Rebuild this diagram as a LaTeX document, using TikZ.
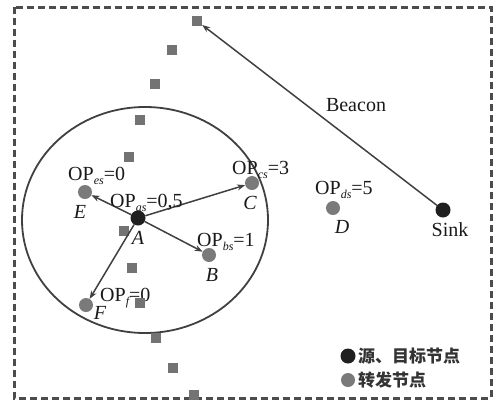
\documentclass[tikz,border=0pt]{standalone}
\usepackage{fontspec}
\setmainfont{Liberation Serif}
\newfontfamily\cjk{Noto Sans CJK SC}
\usetikzlibrary{arrows.meta}
\newcommand\opl[2]{OP\raisebox{-0.45ex}{\fontsize{12}{12}\selectfont\itshape #1}=#2}
\begin{document}
\begin{tikzpicture}[x=1pt,y=-1pt,
 every node/.style={font=\fontsize{20}{22}\selectfont,inner sep=0pt,text=black!90},
 src/.style={circle,fill=black!88,minimum size=15pt,inner sep=0pt},
 fwd/.style={circle,fill=black!52,minimum size=14pt,inner sep=0pt},
 sq/.style={rectangle,fill=black!55,minimum size=10pt,inner sep=0pt},
 lbl/.style={font=\fontsize{20}{22}\selectfont\itshape},
 oplab/.style={anchor=base west},
 link/.style={draw=black!75,line width=1.5pt,-{Stealth[length=8pt,width=6pt]}},
 legtext/.style={anchor=west,font=\fontsize{17}{18}\selectfont\cjk\bfseries,text=black!80}
]
\useasboundingbox (0,0) rectangle (500,405);
\draw[black!70,line width=3pt,dash pattern=on 7pt off 4pt] (14,7) rectangle (491,398);
\draw[black!75,line width=1.8pt] (145,220) ellipse [x radius=123, y radius=113];
% squares
\node[sq] (s1) at (197,21) {};
\node[sq] (s2) at (172,50) {};
\node[sq] (s3) at (155,84) {};
\node[sq] (s4) at (140,120) {};
\node[sq] (s5) at (129,157) {};
\node[sq] (s6) at (124,231) {};
\node[sq] (s7) at (132,268) {};
\node[sq] (s9) at (156,338) {};
\node[sq] (s10) at (173,368) {};
\node[sq] (s11) at (194,395) {};
% nodes
\node[fwd] (E) at (85,192) {};
\node[fwd] (C) at (252,183) {};
\node[fwd] (B) at (209,255) {};
\node[fwd] (F) at (86,305) {};
\node[fwd] (D) at (333,208) {};
\node[src] (Sink) at (443,210) {};
\node[src] (A) at (138,218) {};
% links
\draw[link] (A) -- (E);
\draw[link] (A) -- (C);
\draw[link] (A) -- (B);
\draw[link] (A) -- (F);
\draw[link] (Sink) -- (s1);
% labels
\node[oplab] (lE) at (68,180) {\opl{es}{0}};
\node[oplab] (lA) at (110,207) {\opl{as}{0,5}};
\node[oplab] (lC) at (232,174) {\opl{cs}{3}};
\node[oplab] (lB) at (197,246) {\opl{bs}{1}};
\node[oplab] (lF) at (100,301) {\opl{f}{0}};
\node[oplab] (lD) at (315,194) {\opl{ds}{5}};
\node[sq] (s8) at (140,303) {};
\node[lbl] (tE) at (80,212) {E};
\node[lbl] (tC) at (250,203) {C};
\node[lbl] (tA) at (138,238) {A};
\node[lbl] (tB) at (212,275) {B};
\node[lbl] (tF) at (100,313) {F};
\node[lbl] (tD) at (342,227) {D};
\node (tS) at (450,230) {Sink};
\node (beacon) at (356,105) {Beacon};
% legend
\node[src] (k1) at (348,356) {};
\node[legtext] (k1t) at (358,356) {源、目标节点};
\node[fwd] (k2) at (348,380) {};
\node[legtext] (k2t) at (358,380) {转发节点};
\end{tikzpicture}
\end{document}
